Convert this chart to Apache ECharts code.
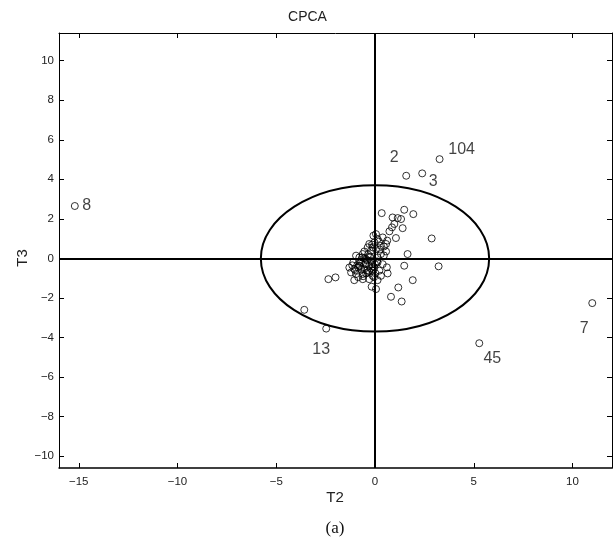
<!DOCTYPE html>
<html><head><meta charset="utf-8">
<script src="https://cdn.jsdelivr.net/npm/echarts@6/dist/echarts.min.js"></script>
<style>html,body{margin:0;padding:0;background:#fff}#c{width:615px;height:546px}</style>
</head><body><div id="c"></div>
<script>
const xTicks = [-15, -10, -5, 0, 5, 10];
const yTicks = [-10, -8, -6, -4, -2, 0, 2, 4, 6, 8, 10];
const xRange = [-16, 12];
const yRange = [-10.6, 11.4];

// unlabeled score points (T2, T3)
const ptsT2 = [0.34, 1.48, 1.94, 0.89, 1.15, 1.32, 1.40, 0.98, 0.86, 0.73, 2.87, 1.06, 1.65, 3.22, 1.48, 1.91, 1.18, 0.81, 1.35, 0.64,
  -2.36, -2.00, -3.58, -0.17, 0.05,
  0.05, -0.08, 0.13, 0.39, 0.56, 0.30, -0.03, -0.29, -0.37, -0.20, 0.05, 0.56, 0.30, 0.13, -0.62, -0.79, -0.96, -0.46, -0.20, 0.13,
  -1.10, -1.30, -1.05, -0.79, -0.54, -0.29, -0.03, 0.22, -1.21, -0.96, -0.62, -0.37, -0.12, -1.05, -0.62, -0.29, 0.13, -0.46, -0.71,
  -0.12, -0.25, 0.39, 0.30, -0.54, -0.12, 0.20, -0.40, -0.85, -0.15, 0.45, 0.62, 0.02, -0.55,
  -0.90, -0.70, -0.50, -0.30, -0.10, 0.10, -1.00, -0.80, -0.60, -0.40, -0.20, 0.00, -0.75, -0.45, -0.25, -0.05, -0.65, -0.35, -1.15, -0.85,
  0.25, 0.45, -0.15, 0.60];
const ptsT3 = [2.29, 2.46, 2.24, 2.07, 2.04, 1.99, 1.53, 1.74, 1.57, 1.37, 1.01, 1.03, 0.22, -0.40, -0.37, -1.10, -1.47, -1.94, -2.18, -0.76,
  -1.05, -0.96, -2.60, -1.43, -1.55,
  1.23, 1.15, 0.98, 1.06, 0.73, 0.64, 0.81, 0.73, 0.56, 0.39, 0.47, 0.35, 0.22, 0.05, 0.22, 0.05, 0.14, -0.03, -0.12, -0.20,
  -0.20, -0.46, -0.54, -0.37, -0.54, -0.37, -0.46, -0.62, -0.71, -0.79, -0.79, -0.71, -0.88, -1.10, -1.05, -1.05, -1.10, -0.29, -0.20,
  -0.62, 0.05, -0.29, -0.88, 0.35, 0.56, 0.85, -0.60, -0.45, -0.30, 0.60, 0.90, -0.75, 0.00,
  -0.35, -0.55, -0.25, -0.65, -0.40, -0.15, -0.60, -0.15, -0.90, -0.10, -0.50, -0.30, -0.40, -0.75, 0.10, -0.95, 0.05, 0.20, -0.35, -0.95,
  0.45, 0.15, 0.70, -0.45];

// labeled points
const labelNames = ['8', '2', '104', '3', '7', '45', '13'];
const labelT2 = [-15.2, 1.58, 3.27, 2.39, 11.0, 5.28, -2.47];
const labelT3 = [2.65, 4.18, 5.02, 4.30, -2.26, -4.29, -3.55];

// confidence ellipse
const ellipseCenter = [0, 0];
const ellipseRadii = [5.78, 3.70];

const labelOffset = {'8': [12, 0], '2': [-12, -18], '104': [22, -10], '3': [11, 8], '7': [-8, 25], '45': [13, 15], '13': [-5, 21]};
const fmt = v => String(v).replace('-', '\u2212');
const font = '"Liberation Sans", Arial, Helvetica, sans-serif';

const chart = echarts.init(document.getElementById('c'), null, {renderer: 'canvas'});
const common = {type: 'value', scale: false, splitLine: {show: false}};
const xAxisBase = Object.assign({}, common, {min: xRange[0], max: xRange[1]});
const yAxisBase = Object.assign({}, common, {min: yRange[0], max: yRange[1]});

chart.setOption({
  animation: false,
  backgroundColor: '#fff',
  grid: {left: 59, right: 3, top: 33, bottom: 78, containLabel: false},
  xAxis: [
    Object.assign({}, xAxisBase, {position: 'bottom',
      axisLine: {onZero: false, lineStyle: {color: '#000', width: 1.5}},
      axisTick: {inside: true, length: 5, customValues: xTicks, lineStyle: {color: '#000'}},
      axisLabel: {customValues: xTicks, formatter: fmt, color: '#222', fontSize: 11.5, fontFamily: font, margin: 8}}),
    Object.assign({}, xAxisBase, {position: 'top',
      axisLine: {onZero: false, lineStyle: {color: '#000', width: 1}},
      axisTick: {inside: true, length: 5, customValues: xTicks, lineStyle: {color: '#000'}},
      axisLabel: {show: false}})
  ],
  yAxis: [
    Object.assign({}, yAxisBase, {position: 'left',
      axisLine: {onZero: false, lineStyle: {color: '#000', width: 1}},
      axisTick: {inside: true, length: 5, customValues: yTicks, lineStyle: {color: '#000'}},
      axisLabel: {customValues: yTicks, formatter: fmt, color: '#222', fontSize: 11.5, fontFamily: font, margin: 5}}),
    Object.assign({}, yAxisBase, {position: 'right',
      axisLine: {onZero: false, lineStyle: {color: '#000', width: 1}},
      axisTick: {inside: true, length: 5, customValues: yTicks, lineStyle: {color: '#000'}},
      axisLabel: {show: false}})
  ],
  graphic: [
    {type: 'text', left: 'center', top: 10, style: {text: 'CPCA', font: '14px ' + font, fill: '#222'}},
    {type: 'text', x: 335, y: 498, style: {text: 'T2', font: '15px ' + font, fill: '#222', align: 'center', verticalAlign: 'middle'}},
    {type: 'text', x: 23, y: 258, rotation: Math.PI / 2, style: {text: 'T3', font: '15px ' + font, fill: '#222', align: 'center', verticalAlign: 'middle'}},
    {type: 'text', x: 335, y: 529, style: {text: '(a)', font: '17px "Liberation Serif", "Times New Roman", serif', fill: '#111', align: 'center', verticalAlign: 'middle'}}
  ],
  series: [
    {
      type: 'custom', xAxisIndex: 0, yAxisIndex: 0, silent: true,
      data: [ellipseCenter],
      renderItem: function (params, api) {
        const c = api.coord([api.value(0), api.value(1)]);
        const s = api.size([ellipseRadii[0], ellipseRadii[1]]);
        return {type: 'ellipse', shape: {cx: c[0], cy: c[1], rx: s[0], ry: s[1]},
          style: {fill: 'none', stroke: '#000', lineWidth: 2}};
      },
      z: 3
    },
    {
      type: 'scatter', xAxisIndex: 0, yAxisIndex: 0,
      data: ptsT2.map((x, i) => [x, ptsT3[i]]),
      symbol: 'circle', symbolSize: 7,
      itemStyle: {color: 'rgba(255,255,255,0)', borderColor: '#000', borderWidth: 1},
      markLine: {silent: true, symbol: 'none', label: {show: false},
        lineStyle: {color: '#000', width: 2, type: 'solid'},
        data: [{xAxis: 0}, {yAxis: 0}]},
      z: 4
    },
    {
      type: 'scatter', xAxisIndex: 0, yAxisIndex: 0,
      data: labelNames.map((n, i) => ({name: n, value: [labelT2[i], labelT3[i]],
        label: {offset: labelOffset[n]}})),
      symbol: 'circle', symbolSize: 7,
      itemStyle: {color: 'rgba(255,255,255,0)', borderColor: '#000', borderWidth: 1},
      label: {show: true, position: 'inside', formatter: '{b}', color: '#111', fontSize: 16, fontFamily: font},
      z: 5
    }
  ]
});
</script></body></html>
